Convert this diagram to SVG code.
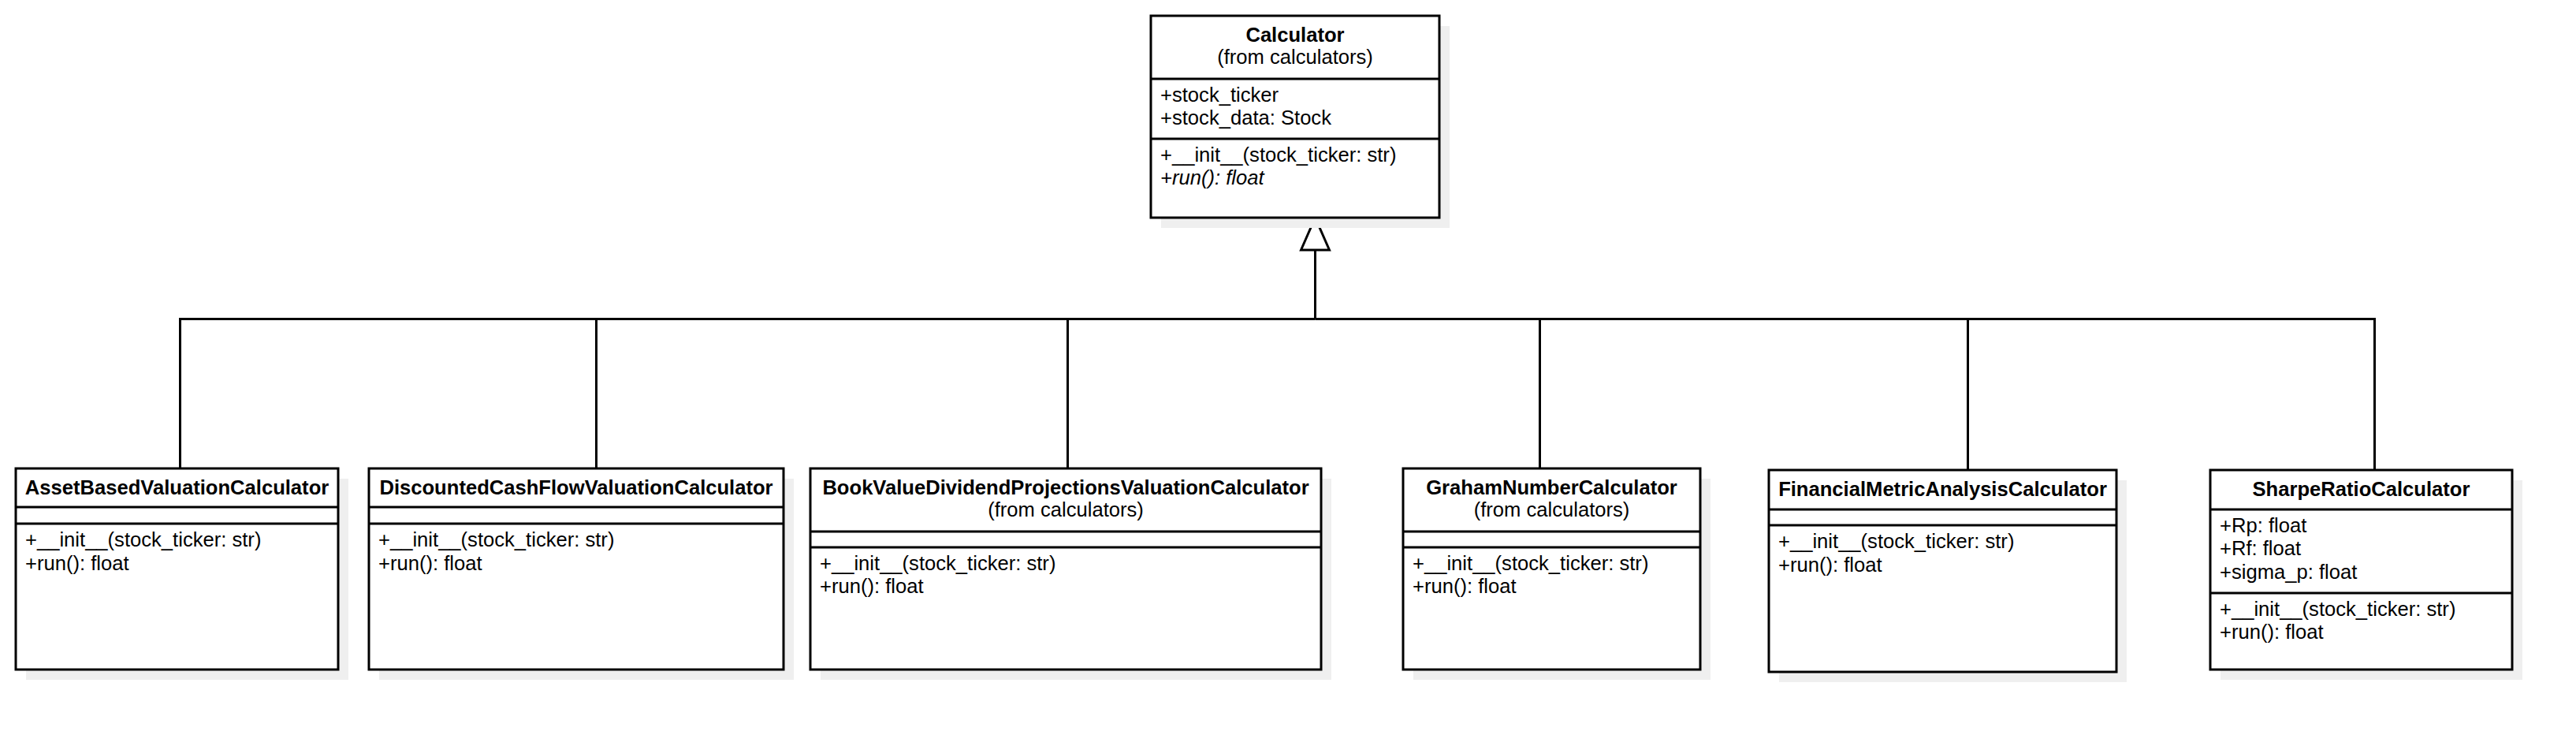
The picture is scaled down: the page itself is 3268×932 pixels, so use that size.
<svg xmlns="http://www.w3.org/2000/svg" width="3268" height="932" viewBox="0 0 3268 932">
<defs>
<style>
.box{fill:#ffffff;stroke:#000000;stroke-width:3}
.shadow{fill:#efefef;stroke:none}
.sep{stroke:#000000;stroke-width:3;fill:none}
.edge{stroke:#000000;stroke-width:3;fill:none}
text{font-family:"Liberation Sans",Arial,sans-serif;font-size:25.6px;fill:#000000}
.title{font-weight:bold;text-anchor:middle}
.pkg{text-anchor:middle}
.abs{font-style:italic}
</style>
<marker id="inherit" viewBox="-3 -22 48 44" refX="0" refY="0" markerWidth="48" markerHeight="44" markerUnits="userSpaceOnUse" orient="auto">
<path d="M0,-18 L41,0 L0,18 Z" fill="#ffffff" stroke="#000000" stroke-width="3" stroke-linejoin="miter"/>
</marker>
</defs>
<rect width="3268" height="932" fill="#ffffff"/>

<g id="connectors">
<path class="edge" d="M228.5,594 V404.5 H1668.5"/>
<path class="edge" d="M756.5,594 V404.5"/>
<path class="edge" d="M1354.5,594 V404.5"/>
<path class="edge" d="M1953.5,594 V404.5"/>
<path class="edge" d="M2496.5,596 V404.5"/>
<path class="edge" d="M3012.5,596 V404.5 H1668.5"/>
<path class="edge" d="M1668.5,404.5 V317" marker-end="url(#inherit)"/>
</g>

<g id="Calculator">
<rect class="shadow" x="1473" y="33" width="366" height="256"/>
<rect class="box" x="1460" y="20" width="366" height="256"/>
<line class="sep" x1="1460" y1="100" x2="1826" y2="100"/>
<line class="sep" x1="1460" y1="176" x2="1826" y2="176"/>
<text class="title" x="1643" y="53">Calculator</text>
<text class="pkg" x="1643" y="81">(from calculators)</text>
<text x="1472" y="129">+stock_ticker</text>
<text x="1472" y="158">+stock_data: Stock</text>
<text x="1472" y="205">+__init__(stock_ticker: str)</text>
<text class="abs" x="1472" y="234">+run(): float</text>
</g>

<g id="AssetBasedValuationCalculator">
<rect class="shadow" x="33" y="607" width="409" height="255"/>
<rect class="box" x="20" y="594" width="409" height="255"/>
<line class="sep" x1="20" y1="643" x2="429" y2="643"/>
<line class="sep" x1="20" y1="664" x2="429" y2="664"/>
<text class="title" x="224.5" y="627">AssetBasedValuationCalculator</text>
<text x="32" y="693">+__init__(stock_ticker: str)</text>
<text x="32" y="723">+run(): float</text>
</g>

<g id="DiscountedCashFlowValuationCalculator">
<rect class="shadow" x="481" y="607" width="526" height="255"/>
<rect class="box" x="468" y="594" width="526" height="255"/>
<line class="sep" x1="468" y1="643" x2="994" y2="643"/>
<line class="sep" x1="468" y1="664" x2="994" y2="664"/>
<text class="title" x="731" y="627">DiscountedCashFlowValuationCalculator</text>
<text x="480" y="693">+__init__(stock_ticker: str)</text>
<text x="480" y="723">+run(): float</text>
</g>

<g id="BookValueDividendProjectionsValuationCalculator">
<rect class="shadow" x="1041" y="607" width="648" height="255"/>
<rect class="box" x="1028" y="594" width="648" height="255"/>
<line class="sep" x1="1028" y1="674" x2="1676" y2="674"/>
<line class="sep" x1="1028" y1="694" x2="1676" y2="694"/>
<text class="title" x="1352" y="627">BookValueDividendProjectionsValuationCalculator</text>
<text class="pkg" x="1352" y="655">(from calculators)</text>
<text x="1040" y="723">+__init__(stock_ticker: str)</text>
<text x="1040" y="752">+run(): float</text>
</g>

<g id="GrahamNumberCalculator">
<rect class="shadow" x="1793" y="607" width="377" height="255"/>
<rect class="box" x="1780" y="594" width="377" height="255"/>
<line class="sep" x1="1780" y1="674" x2="2157" y2="674"/>
<line class="sep" x1="1780" y1="694" x2="2157" y2="694"/>
<text class="title" x="1968.5" y="627">GrahamNumberCalculator</text>
<text class="pkg" x="1968.5" y="655">(from calculators)</text>
<text x="1792" y="723">+__init__(stock_ticker: str)</text>
<text x="1792" y="752">+run(): float</text>
</g>

<g id="FinancialMetricAnalysisCalculator">
<rect class="shadow" x="2257" y="609" width="441" height="256"/>
<rect class="box" x="2244" y="596" width="441" height="256"/>
<line class="sep" x1="2244" y1="646" x2="2685" y2="646"/>
<line class="sep" x1="2244" y1="666" x2="2685" y2="666"/>
<text class="title" x="2464.5" y="629">FinancialMetricAnalysisCalculator</text>
<text x="2256" y="695">+__init__(stock_ticker: str)</text>
<text x="2256" y="725">+run(): float</text>
</g>

<g id="SharpeRatioCalculator">
<rect class="shadow" x="2817" y="609" width="383" height="253"/>
<rect class="box" x="2804" y="596" width="383" height="253"/>
<line class="sep" x1="2804" y1="646" x2="3187" y2="646"/>
<line class="sep" x1="2804" y1="752" x2="3187" y2="752"/>
<text class="title" x="2995.5" y="629">SharpeRatioCalculator</text>
<text x="2816" y="675">+Rp: float</text>
<text x="2816" y="704">+Rf: float</text>
<text x="2816" y="734">+sigma_p: float</text>
<text x="2816" y="781">+__init__(stock_ticker: str)</text>
<text x="2816" y="810">+run(): float</text>
</g>
</svg>
